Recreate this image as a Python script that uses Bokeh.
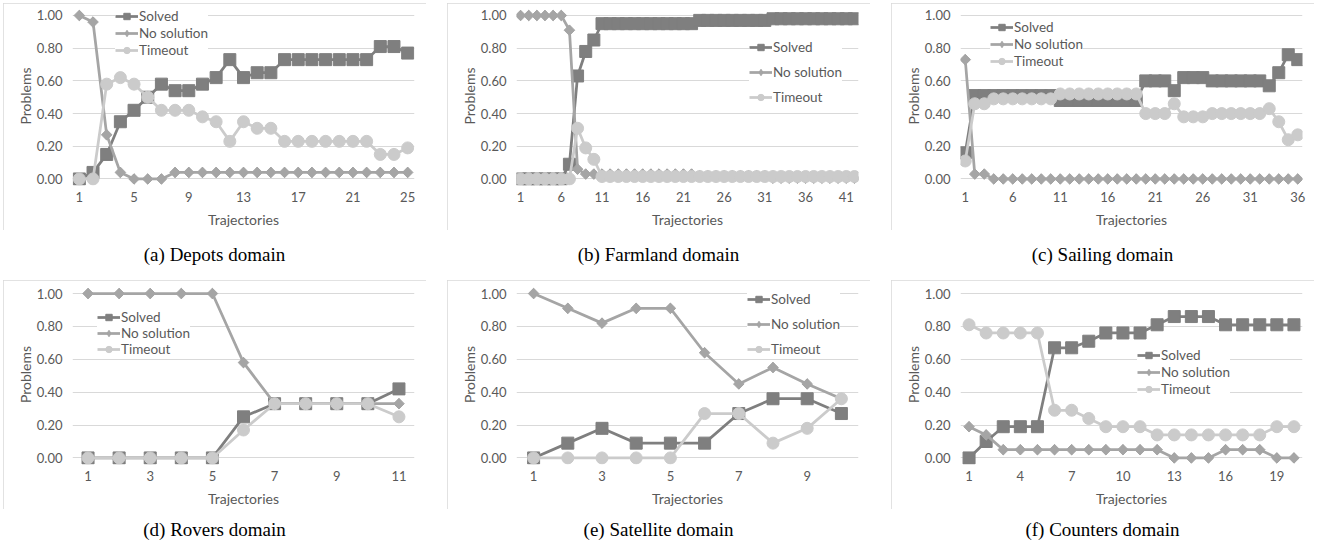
import numpy as np
from bokeh.plotting import figure
from bokeh.models import (FixedTicker, PrintfTickFormatter, Legend, LegendItem,
                          Div, Range1d, Spacer)
from bokeh.layouts import row, column
from bokeh.embed import file_html
from bokeh.resources import INLINE

# ---------------- data ----------------
depots_solved = [0.00, 0.04, 0.15, 0.35, 0.42, 0.50, 0.58, 0.54, 0.54, 0.58, 0.62, 0.73, 0.62,
                 0.65, 0.65, 0.73, 0.73, 0.73, 0.73, 0.73, 0.73, 0.73, 0.81, 0.81, 0.77]
depots_nosol = [1.00, 0.96, 0.27, 0.04, 0.00, 0.00, 0.00, 0.04, 0.04, 0.04, 0.04, 0.04, 0.04,
                0.04, 0.04, 0.04, 0.04, 0.04, 0.04, 0.04, 0.04, 0.04, 0.04, 0.04, 0.04]
depots_timeout = [0.00, 0.00, 0.58, 0.62, 0.58, 0.50, 0.42, 0.42, 0.42, 0.38, 0.35, 0.23, 0.35,
                  0.31, 0.31, 0.23, 0.23, 0.23, 0.23, 0.23, 0.23, 0.23, 0.15, 0.15, 0.19]
depots_ticks = [1, 5, 9, 13, 17, 21, 25]

farm_solved = [0.00, 0.00, 0.00, 0.00, 0.00, 0.00, 0.09, 0.63, 0.78, 0.85,
               0.95, 0.95, 0.95, 0.95, 0.95, 0.95, 0.95, 0.95, 0.95, 0.95, 0.95, 0.95,
               0.97, 0.97, 0.97, 0.97, 0.97, 0.97, 0.97, 0.97, 0.97,
               0.98, 0.98, 0.98, 0.98, 0.98, 0.98, 0.98, 0.98, 0.98, 0.98, 0.98]
farm_nosol = [1.00, 1.00, 1.00, 1.00, 1.00, 1.00, 0.91, 0.06, 0.03, 0.03,
              0.03, 0.03, 0.03, 0.03, 0.03, 0.03, 0.03, 0.03, 0.03, 0.03, 0.03, 0.03,
              0.02, 0.02, 0.02, 0.02, 0.02, 0.02, 0.02, 0.02, 0.02,
              0.005, 0.005, 0.005, 0.005, 0.005, 0.005, 0.005, 0.005, 0.005, 0.005, 0.005]
farm_timeout = [0.00, 0.00, 0.00, 0.00, 0.00, 0.00, 0.00, 0.31, 0.19, 0.12,
                0.015, 0.015, 0.015, 0.015, 0.015, 0.015, 0.015, 0.015, 0.015, 0.015, 0.015, 0.015,
                0.015, 0.015, 0.015, 0.015, 0.015, 0.015, 0.015, 0.015, 0.015,
                0.015, 0.015, 0.015, 0.015, 0.015, 0.015, 0.015, 0.015, 0.015, 0.015, 0.015]
farm_ticks = [1, 6, 11, 16, 21, 26, 31, 36, 41]

sail_solved = [0.16, 0.51, 0.51, 0.51, 0.51, 0.51, 0.51, 0.51, 0.51, 0.51,
               0.48, 0.48, 0.48, 0.48, 0.48, 0.48, 0.48, 0.48, 0.48,
               0.60, 0.60, 0.60, 0.54, 0.62, 0.62, 0.62,
               0.60, 0.60, 0.60, 0.60, 0.60, 0.60, 0.57, 0.65, 0.76, 0.73]
sail_nosol = [0.73, 0.03, 0.03, 0.00, 0.00, 0.00, 0.00, 0.00, 0.00, 0.00,
              0.00, 0.00, 0.00, 0.00, 0.00, 0.00, 0.00, 0.00, 0.00,
              0.00, 0.00, 0.00, 0.00, 0.00, 0.00, 0.00,
              0.00, 0.00, 0.00, 0.00, 0.00, 0.00, 0.00, 0.00, 0.00, 0.00]
sail_timeout = [0.11, 0.46, 0.46, 0.49, 0.49, 0.49, 0.49, 0.49, 0.49, 0.49,
                0.52, 0.52, 0.52, 0.52, 0.52, 0.52, 0.52, 0.52, 0.52,
                0.40, 0.40, 0.40, 0.46, 0.38, 0.38, 0.38,
                0.40, 0.40, 0.40, 0.40, 0.40, 0.40, 0.43, 0.35, 0.24, 0.27]
sail_ticks = [1, 6, 11, 16, 21, 26, 31, 36]

rov_solved = [0.00, 0.00, 0.00, 0.00, 0.00, 0.25, 0.33, 0.33, 0.33, 0.33, 0.42]
rov_nosol = [1.00, 1.00, 1.00, 1.00, 1.00, 0.58, 0.33, 0.33, 0.33, 0.33, 0.33]
rov_timeout = [0.00, 0.00, 0.00, 0.00, 0.00, 0.17, 0.33, 0.33, 0.33, 0.33, 0.25]
rov_ticks = [1, 3, 5, 7, 9, 11]

sat_solved = [0.00, 0.09, 0.18, 0.09, 0.09, 0.09, 0.27, 0.36, 0.36, 0.27]
sat_nosol = [1.00, 0.91, 0.82, 0.91, 0.91, 0.64, 0.45, 0.55, 0.45, 0.36]
sat_timeout = [0.00, 0.00, 0.00, 0.00, 0.00, 0.27, 0.27, 0.09, 0.18, 0.36]
sat_ticks = [1, 3, 5, 7, 9]

cnt_solved = [0.00, 0.10, 0.19, 0.19, 0.19, 0.67, 0.67, 0.71, 0.76, 0.76,
              0.76, 0.81, 0.86, 0.86, 0.86, 0.81, 0.81, 0.81, 0.81, 0.81]
cnt_nosol = [0.19, 0.14, 0.05, 0.05, 0.05, 0.05, 0.05, 0.05, 0.05, 0.05,
             0.05, 0.05, 0.00, 0.00, 0.00, 0.05, 0.05, 0.05, 0.00, 0.00]
cnt_timeout = [0.81, 0.76, 0.76, 0.76, 0.76, 0.29, 0.29, 0.24, 0.19, 0.19,
               0.19, 0.14, 0.14, 0.14, 0.14, 0.14, 0.14, 0.14, 0.19, 0.19]
cnt_ticks = [1, 4, 7, 10, 13, 16, 19]

y_ticks = [0.0, 0.2, 0.4, 0.6, 0.8, 1.0]
series_names = ["Solved", "No solution", "Timeout"]
captions = ["(a) Depots domain", "(b) Farmland domain", "(c) Sailing domain",
            "(d) Rovers domain", "(e) Satellite domain", "(f) Counters domain"]

# ---------------- style ----------------
C_SOLVED = "#7f7f7f"
C_NOSOL = "#a5a5a5"
C_TIME = "#cbcbcb"
TXT = "#595959"
GRID = "#d9d9d9"
FONT = "Lato"
PW = 423


def panel(solved, nosol, timeout, ticks, leg_x, leg_y, leg_sp, height, top):
    n = len(solved)
    x = list(range(1, n + 1))
    p = figure(width=PW, height=height, output_backend="svg", toolbar_location=None,
               x_range=Range1d(0.5, n + 0.5), y_range=Range1d(-0.04, 1.055),
               min_border_left=69, min_border_right=12, min_border_top=top,
               min_border_bottom=45, background_fill_color="white",
               border_fill_color="white", outline_line_color=None,
               styles={"outline": "1px solid #d9d9d9", "outline-offset": "-1px"})
    p.xgrid.visible = False
    p.ygrid.grid_line_color = GRID
    p.ygrid.grid_line_width = 1
    p.ygrid.ticker = FixedTicker(ticks=y_ticks)

    p.xaxis.ticker = FixedTicker(ticks=ticks)
    p.yaxis.ticker = FixedTicker(ticks=y_ticks)
    p.yaxis.formatter = PrintfTickFormatter(format="%.2f")
    p.xaxis.axis_label = "Trajectories"
    p.yaxis.axis_label = "Problems"
    for ax in (p.xaxis, p.yaxis):
        ax.axis_line_color = None
        ax.major_tick_line_color = None
        ax.minor_tick_line_color = None
        ax.major_tick_out = 0
        ax.major_tick_in = 0
        ax.major_label_text_font = FONT
        ax.major_label_text_font_size = "13px"
        ax.major_label_text_color = TXT
        ax.axis_label_text_font = FONT
        ax.axis_label_text_font_size = "14px"
        ax.axis_label_text_font_style = "normal"
        ax.axis_label_text_color = TXT
    p.xaxis.major_label_standoff = 6
    p.xaxis.axis_label_standoff = 6
    p.yaxis.major_label_standoff = 10
    p.yaxis.axis_label_standoff = 0

    lw = 2.75
    l1 = p.line(x, solved, line_color=C_SOLVED, line_width=lw)
    s1 = p.scatter(x, solved, marker="square", size=12, fill_color=C_SOLVED,
                   line_color=C_SOLVED)
    l2 = p.line(x, nosol, line_color=C_NOSOL, line_width=lw)
    # diamond glyph used for the legend; hidden below the rotated squares
    s2 = p.scatter(x, nosol, marker="diamond", size=10,
                   fill_color=C_NOSOL, line_color=C_NOSOL)
    p.scatter(x, nosol, marker="square", angle=np.pi / 4, size=7.5,
              fill_color=C_NOSOL, line_color=C_NOSOL)
    l3 = p.line(x, timeout, line_color=C_TIME, line_width=lw)
    s3 = p.scatter(x, timeout, marker="circle", size=12, fill_color=C_TIME,
                   line_color=C_TIME)

    items = [LegendItem(label=series_names[0], renderers=[l1, s1]),
             LegendItem(label=series_names[1], renderers=[l2, s2]),
             LegendItem(label=series_names[2], renderers=[l3, s3])]
    leg = Legend(items=items, location=(leg_x, leg_y), orientation="vertical",
                 background_fill_color="white", background_fill_alpha=1.0,
                 border_line_color=None, padding=0, margin=0,
                 glyph_width=23, glyph_height=16, label_height=15,
                 label_standoff=1, spacing=leg_sp,
                 label_text_font=FONT, label_text_font_size="13.5px",
                 label_text_color=TXT)
    p.add_layout(leg)
    return p


def caption(txt, mt, h):
    return Div(text='<div style="text-align:center; width:%dpx; margin-top:%dpx; '
                    'font-family:\'Liberation Serif\', \'Times New Roman\', serif; '
                    'font-size:19px; line-height:22px; color:#000;">%s</div>' % (PW, mt, txt),
               width=PW, height=h, margin=0)


H1, H2 = 227, 229
pa = panel(depots_solved, depots_nosol, depots_timeout, depots_ticks, 43, 127, 1, H1, 3)
pb = panel(farm_solved, farm_nosol, farm_timeout, farm_ticks, 233, 80, 9, H1, 3)
pc = panel(sail_solved, sail_nosol, sail_timeout, sail_ticks, 30, 116, 1, H1, 3)
pd = panel(rov_solved, rov_nosol, rov_timeout, rov_ticks, 25, 107, 0, H2, 4)
pe = panel(sat_solved, sat_nosol, sat_timeout, sat_ticks, 231, 107, 9, H2, 4)
pf = panel(cnt_solved, cnt_nosol, cnt_timeout, cnt_ticks, 177, 67, 1, H2, 4)

grid = column(
    Spacer(height=3),
    row(pa, pb, pc, spacing=21),
    row(caption(captions[0], 14, 50), caption(captions[1], 14, 50),
        caption(captions[2], 14, 50), spacing=21),
    row(pd, pe, pf, spacing=21),
    row(caption(captions[3], 10, 40), caption(captions[4], 10, 40),
        caption(captions[5], 10, 40), spacing=21),
)
layout = row(Spacer(width=3), grid)

open("out.html", "w").write(file_html(layout, INLINE))
